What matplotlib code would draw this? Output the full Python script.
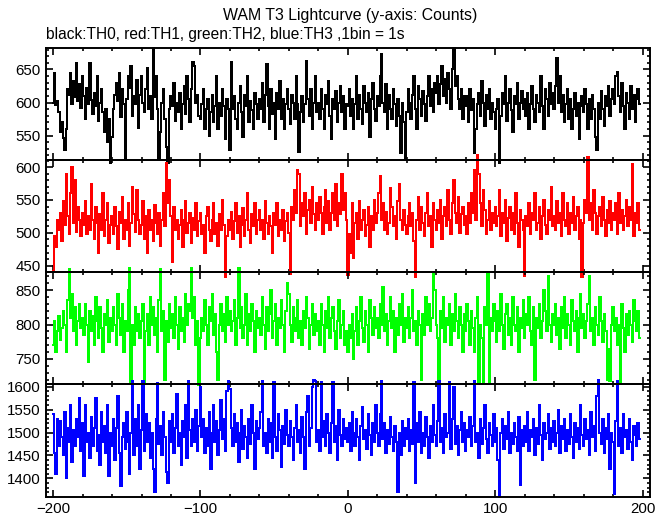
import numpy as np
import matplotlib
matplotlib.use("Agg")
import matplotlib.pyplot as plt
from matplotlib.ticker import MultipleLocator

plt.rcParams['font.family'] = ['Liberation Sans', 'DejaVu Sans']

t_start = -200  # first bin (s), 1 bin = 1 s

th0 = [
    600, 645, 596, 602, 585, 556, 570, 546, 528, 560, 620, 612, 645, 598, 633, 608, 660, 602, 628, 591,
    640, 610, 575, 622, 598, 660, 604, 583, 615, 594, 640, 572, 600, 620, 585, 556, 590, 540, 575, 508,
    548, 590, 612, 630, 602, 645, 578, 620, 598, 516, 605, 640, 622, 655, 580, 610, 598, 634, 562, 612,
    640, 600, 585, 620, 652, 590, 610, 575, 683, 608, 640, 590, 515, 555, 600, 620, 575, 532, 508, 590,
    610, 595, 630, 572, 600, 585, 615, 560, 598, 625, 582, 640, 605, 570, 620, 662, 655, 600, 612, 580,
    575, 598, 620, 560, 590, 605, 550, 585, 612, 570, 595, 640, 560, 600, 580, 620, 595, 545, 605, 590,
    528, 662, 590, 610, 575, 560, 600, 625, 585, 548, 612, 595, 640, 570, 602, 588, 560, 615, 598, 575,
    605, 590, 630, 570, 612, 658, 595, 560, 620, 583, 600, 545, 615, 590, 632, 575, 605, 560, 598, 620,
    590, 568, 612, 600, 575, 640, 598, 525, 585, 610, 570, 598, 663, 605, 580, 620, 560, 600, 640, 585,
    600, 575, 620, 590, 560, 612, 598, 632, 580, 545, 605, 590, 618, 570, 600, 625, 585, 610, 560, 598,
    595, 620, 580, 605, 560, 598, 640, 575, 612, 590, 568, 625, 600, 585, 615, 548, 605, 630, 590, 572,
    610, 595, 640, 674, 600, 585, 628, 560, 612, 590, 575, 620, 598, 565, 605, 580, 523, 600, 570, 515,
    585, 620, 600, 575, 612, 640, 590, 560, 625, 605, 580, 618, 598, 572, 610, 640, 595, 620, 585, 630,
    615, 640, 598, 628, 655, 610, 635, 600, 645, 620, 590, 650, 683, 625, 640, 605, 590, 620, 575, 610,
    595, 610, 570, 620, 588, 605, 524, 560, 598, 615, 580, 632, 600, 565, 612, 590, 620, 575, 600, 585,
    560, 590, 605, 509, 580, 615, 598, 640, 572, 600, 620, 588, 555, 610, 598, 630, 575, 600, 618, 590,
    605, 580, 615, 560, 598, 625, 590, 570, 612, 600, 585, 640, 595, 560, 620, 605, 580, 630, 598, 615,
    590, 625, 667, 600, 640, 585, 612, 570, 598, 620, 575, 605, 560, 590, 615, 580, 600, 545, 595, 610,
    585, 620, 598, 560, 605, 575, 612, 590, 548, 528, 600, 575, 618, 590, 565, 610, 595, 625, 580, 605,
    620, 598, 640, 646, 610, 585, 630, 595, 560, 615, 600, 575, 625, 590, 612, 570, 605, 620, 598,
]

th1 = [
    442, 495, 478, 520, 505, 530, 488, 548, 512, 590, 525, 498, 560, 600, 515, 580, 502, 540, 520, 495,
    530, 512, 548, 498, 525, 505, 575, 520, 490, 540, 515, 470, 528, 505, 560, 495, 520, 545, 485, 512,
    525, 498, 540, 510, 475, 532, 515, 555, 490, 520, 505, 545, 480, 515, 570, 528, 502, 565, 520, 498,
    512, 548, 490, 525, 470, 535, 505, 520, 488, 542, 515, 498, 530, 480, 520, 560, 510, 607, 545, 580,
    525, 455, 540, 505, 520, 490, 512, 535, 478, 520, 548, 500, 515, 530, 485, 522, 505, 545, 495, 518,
    530, 498, 512, 470, 525, 540, 505, 488, 520, 545, 498, 515, 480, 528, 505, 550, 512, 432, 495, 520,
    505, 532, 490, 518, 545, 500, 525, 478, 512, 538, 495, 520, 560, 505, 485, 528, 510, 545, 498, 520,
    535, 505, 520, 490, 548, 515, 498, 525, 510, 470, 530, 512, 545, 495, 520, 505, 535, 488, 518, 530,
    500, 437, 540, 520, 565, 530, 595, 590, 510, 545, 525, 560, 498, 535, 550, 515, 570, 528, 505, 545,
    520, 555, 530, 498, 540, 565, 515, 548, 505, 530, 560, 520, 575, 510, 545, 528, 590, 535, 560, 520,
    436, 498, 470, 545, 462, 515, 530, 490, 548, 505, 520, 535, 495, 512, 540, 478, 525, 505, 550, 515,
    530, 560, 587, 520, 545, 505, 532, 498, 515, 568, 540, 510, 525, 490, 548, 575, 520, 505, 535, 512,
    498, 525, 545, 510, 530, 488, 432, 520, 555, 505, 540, 515, 495, 530, 560, 510, 525, 478, 545, 520,
    505, 535, 515, 550, 490, 525, 540, 510, 565, 520, 498, 545, 580, 530, 515, 555, 500, 528, 540, 512,
    525, 498, 545, 515, 560, 530, 595, 520, 618, 590, 545, 510, 565, 535, 498, 520, 548, 505, 530, 515,
    540, 510, 525, 565, 495, 530, 515, 550, 488, 522, 540, 505, 530, 498, 560, 515, 478, 535, 520, 505,
    434, 525, 510, 545, 498, 530, 520, 560, 505, 515, 540, 490, 525, 550, 512, 498, 535, 520, 570, 510,
    525, 505, 548, 515, 530, 495, 560, 520, 510, 545, 498, 530, 515, 555, 505, 525, 540, 490, 520, 433,
    515, 550, 530, 616, 520, 545, 505, 565, 530, 498, 525, 540, 510, 555, 520, 495, 535, 515, 548, 505,
    530, 520, 545, 498, 560, 515, 535, 505, 525, 550, 510, 540, 520, 605, 495, 530, 515, 545, 505,
]

th2 = [
    770, 805, 760, 790, 812, 778, 795, 820, 800, 760, 835, 880, 810, 845, 790, 825, 770, 805, 830, 795,
    810, 785, 830, 800, 745, 820, 790, 812, 770, 840, 805, 780, 825, 795, 760, 815, 800, 835, 775, 810,
    790, 825, 800, 770, 845, 810, 785, 830, 760, 805, 790, 850, 882, 715, 800, 770, 825, 790, 815, 780,
    805, 830, 715, 790, 815, 770, 840, 800, 825, 785, 810, 760, 835, 880, 790, 820, 720, 805, 775, 830,
    795, 815, 780, 840, 800, 765, 825, 790, 810, 775, 845, 800, 830, 820, 882, 810, 840, 770, 805, 712,
    780, 810, 790, 835, 800, 770, 825, 805, 845, 785, 815, 760, 720, 800, 830, 790, 815, 775, 840, 800,
    820, 790, 805, 835, 770, 810, 882, 795, 825, 780, 800, 845, 770, 815, 790, 830, 805, 760, 820, 795,
    810, 785, 840, 800, 765, 825, 790, 815, 850, 780, 805, 830, 770, 810, 795, 835, 800, 760, 820, 860,
    845, 800, 775, 825, 790, 810, 835, 780, 805, 770, 820, 795, 840, 810, 765, 800, 830, 785, 815, 790,
    805, 770, 830, 800, 760, 820, 795, 840, 780, 810, 825, 790, 765, 805, 835, 780, 800, 820, 770, 790,
    760, 800, 780, 815, 750, 790, 825, 770, 805, 840, 795, 775, 820, 800, 760, 835, 810, 785, 825, 795,
    810, 780, 830, 800, 855, 790, 815, 770, 805, 840, 795, 820, 760, 810, 785, 830, 800, 845, 775, 810,
    795, 825, 780, 810, 850, 790, 805, 770, 820, 800, 720, 815, 785, 840, 800, 830, 790, 810, 875, 850,
    800, 780, 715, 820, 795, 840, 775, 810, 800, 830, 770, 815, 790, 845, 805, 780, 825, 800, 760, 815,
    790, 830, 805, 770, 820, 795, 760, 810, 840, 715, 800, 780, 716, 825, 800, 875, 714, 810, 790, 830,
    805, 775, 820, 790, 845, 800, 765, 815, 830, 785, 810, 770, 840, 800, 790, 825, 760, 810, 795, 835,
    780, 815, 800, 840, 790, 770, 825, 720, 810, 795, 830, 780, 805, 850, 820, 790, 870, 800, 775, 815,
    800, 830, 785, 810, 765, 825, 795, 840, 780, 815, 800, 770, 835, 805, 790, 820, 760, 810, 845, 795,
    815, 780, 805, 830, 870, 790, 810, 770, 825, 800, 785, 840, 805, 775, 815, 790, 720, 765, 718, 800,
    825, 790, 810, 770, 800, 715, 830, 795, 760, 815, 785, 820, 800, 775, 835, 805, 790, 820, 780,
]

th3 = [
    1540, 1455, 1410, 1530, 1470, 1525, 1490, 1450, 1545, 1400, 1510, 1480, 1560, 1435, 1505, 1470, 1530, 1490, 1575, 1460,
    1520, 1405, 1560, 1480, 1500, 1445, 1535, 1470, 1510, 1575, 1460, 1495, 1430, 1545, 1480, 1515, 1455, 1560, 1405, 1500,
    1470, 1530, 1440, 1510, 1580, 1455, 1383, 1490, 1520, 1465, 1545, 1480, 1410, 1500, 1612, 1450, 1530, 1470, 1560, 1420,
    1505, 1612, 1460, 1540, 1480, 1520, 1445, 1500, 1420, 1370, 1530, 1608, 1475, 1515, 1450, 1545, 1490, 1415, 1390, 1525,
    1480, 1540, 1455, 1510, 1585, 1470, 1500, 1430, 1525, 1490, 1560, 1445, 1612, 1505, 1470, 1530, 1480, 1550, 1460, 1515,
    1600, 1490, 1530, 1455, 1510, 1470, 1545, 1420, 1500, 1560, 1480, 1525, 1450, 1505, 1570, 1485, 1530, 1460, 1590, 1612,
    1595, 1510, 1470, 1540, 1480, 1520, 1435, 1500, 1550, 1465, 1515, 1490, 1445, 1530, 1475, 1560, 1500, 1420, 1525, 1485,
    1510, 1545, 1612, 1470, 1500, 1455, 1530, 1480, 1520, 1445, 1610, 1490, 1460, 1540, 1505, 1425, 1515, 1475, 1550, 1495,
    1470, 1525, 1490, 1440, 1510, 1560, 1480, 1505, 1455, 1535, 1490, 1420, 1545, 1580, 1470, 1510, 1600, 1615, 1612, 1480,
    1505, 1460, 1610, 1490, 1525, 1470, 1540, 1500, 1455, 1520, 1610, 1480, 1515, 1440, 1550, 1495, 1470, 1530, 1485, 1510,
    1480, 1520, 1460, 1545, 1500, 1470, 1530, 1490, 1440, 1515, 1555, 1485, 1505, 1465, 1540, 1495, 1450, 1520, 1480, 1560,
    1500, 1470, 1540, 1612, 1485, 1520, 1455, 1505, 1475, 1535, 1490, 1460, 1515, 1480, 1370, 1500, 1450, 1525, 1470, 1510,
    1485, 1530, 1460, 1505, 1475, 1610, 1390, 1520, 1480, 1545, 1455, 1500, 1470, 1535, 1490, 1445, 1515, 1480, 1560, 1495,
    1470, 1525, 1612, 1480, 1510, 1455, 1540, 1490, 1500, 1610, 1465, 1530, 1600, 1475, 1515, 1450, 1505, 1545, 1480, 1520,
    1460, 1505, 1490, 1535, 1470, 1515, 1612, 1480, 1500, 1445, 1530, 1475, 1510, 1560, 1485, 1455, 1520, 1495, 1470, 1540,
    1480, 1510, 1440, 1360, 1500, 1530, 1465, 1515, 1485, 1545, 1455, 1500, 1475, 1520, 1490, 1460, 1535, 1385, 1505, 1470,
    1515, 1480, 1545, 1460, 1505, 1490, 1530, 1450, 1510, 1475, 1560, 1495, 1440, 1520, 1485, 1500, 1540, 1465, 1510, 1480,
    1525, 1470, 1500, 1550, 1455, 1515, 1485, 1530, 1460, 1505, 1475, 1540, 1490, 1445, 1520, 1480, 1510, 1465, 1560, 1495,
    1470, 1530, 1485, 1505, 1450, 1545, 1490, 1515, 1460, 1580, 1615, 1500, 1475, 1530, 1455, 1510, 1485, 1540, 1420, 1500,
    1480, 1365, 1525, 1612, 1470, 1510, 1455, 1540, 1490, 1505, 1465, 1530, 1480, 1440, 1515, 1495, 1470, 1520, 1485,
]

series = [th0, th1, th2, th3]
colors = ['black', '#ff0000', '#00ff00', '#0000ff']
ylims = [(513, 683), (440, 611), (713, 876), (1360, 1605)]
xlim = (-205, 205)

title = "WAM T3 Lightcurve (y-axis: Counts)"
subtitle = "black:TH0, red:TH1, green:TH2, blue:TH3 ,1bin = 1s"

W, H = 669, 515
fig = plt.figure(figsize=(W / 100, H / 100), dpi=100)

left_px, right_px = 45.7, 650.0
top_px, bot_px = 47.7, 496.7
ph = (bot_px - top_px) / 4

axes = []
for i, (vals, col, yl) in enumerate(zip(series, colors, ylims)):
    y0 = top_px + i * ph
    ax = fig.add_axes([left_px / W, 1 - (y0 + ph) / H, (right_px - left_px) / W, ph / H])
    ax.set_facecolor('none')
    x = np.arange(len(vals)) + t_start
    ax.step(x, vals, where='mid', color=col, lw=1.25, clip_on=False,
            solid_joinstyle='miter', antialiased=False)
    ax.set_xlim(*xlim)
    ax.set_ylim(*yl)
    ax.xaxis.set_major_locator(MultipleLocator(100))
    ax.xaxis.set_minor_locator(MultipleLocator(20))
    ax.yaxis.set_major_locator(MultipleLocator(50))
    ax.yaxis.set_minor_locator(MultipleLocator(10))
    ax.tick_params(which='both', direction='in', top=True, right=True,
                   labelsize=10.8, width=1.2, colors='black')
    ax.tick_params(which='major', length=5)
    ax.tick_params(which='minor', length=2.5)
    for s in ax.spines.values():
        s.set_linewidth(1.4)
    if i < 3:
        ax.tick_params(labelbottom=False)
    axes.append(ax)

fig.text(350 / W, 1 - 15.5 / H, title, ha='center', va='center', fontsize=11.4)
fig.text(46 / W, 1 - 34 / H, subtitle, ha='left', va='center', fontsize=11.2)

fig.savefig('out.png', dpi=100)
